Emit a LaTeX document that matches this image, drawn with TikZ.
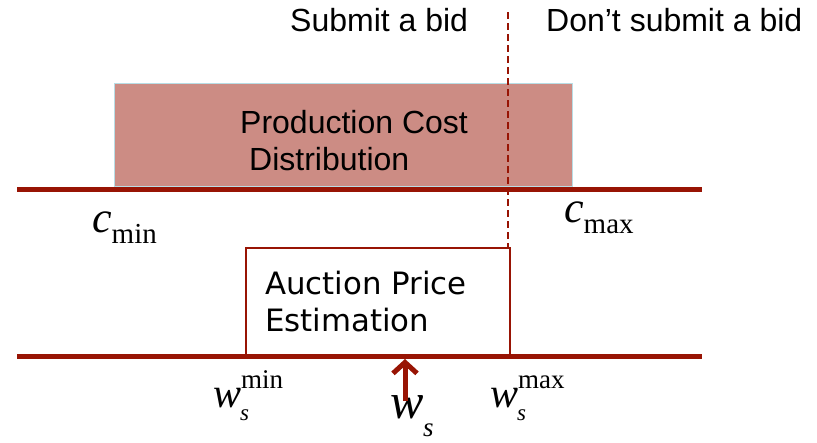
\documentclass[tikz,border=0pt]{standalone}
\usepackage{fontspec}
\setmainfont{Liberation Sans}
\newfontfamily\tms{Liberation Serif}
\newfontfamily\dvs{DejaVu Sans}
\usetikzlibrary{arrows.meta}
\definecolor{axisred}{RGB}{152,20,4}
\definecolor{costfill}{RGB}{204,140,132}
\definecolor{costedge}{RGB}{184,221,229}
\tikzset{
  axisline/.style={draw=axisred, line width=5pt},
  txt/.style={inner sep=0pt, anchor=base west},
  headtxt/.style={txt, font=\fontsize{32}{37}\selectfont},
  boxtxt/.style={txt, font=\dvs\fontsize{30.8}{37}\selectfont},
  mathlbl/.style={inner sep=0pt, anchor=base west, font=\tms},
}
\newcommand{\bigit}[2]{{\fontsize{#1}{#1}\selectfont\itshape #2}}
\newcommand{\rmsz}[2]{{\fontsize{#1}{#1}\selectfont #2}}
\begin{document}
\begin{tikzpicture}[x=1pt, y=-1pt]
  \useasboundingbox (0,0) rectangle (817,442);

  % header labels on either side of the threshold
  \node[headtxt] (submit) at (290,31) {Submit a bid};
  \node[headtxt] (nosubmit) at (546,31) {Don’t submit a bid};

  % production cost distribution box
  \node[draw=costedge, fill=costfill, line width=1.2pt, anchor=north west,
        minimum width=458pt, minimum height=103pt, inner sep=0pt] (prod) at (114,83) {};
  \node[headtxt] (prodA) at (240,133) {Production Cost};
  \node[headtxt] (prodB) at (249,170) {Distribution};

  % axis lines
  \coordinate (topL) at (17,189);
  \coordinate (topR) at (702,189);
  \coordinate (botL) at (17,356);
  \coordinate (botR) at (702,356);

  % auction price estimation box
  \node[draw=axisred, fill=white, line width=1.5pt, anchor=north west,
        minimum width=264pt, minimum height=108pt, inner sep=0pt] (auct) at (245,247) {};
  \node[boxtxt] (auctA) at (265,294) {Auction Price};
  \node[boxtxt] (auctB) at (265,331) {Estimation};

  \draw[axisline] (topL) -- (topR);
  \draw[axisline] (botL) -- (botR);

  % threshold
  \coordinate (thTop) at (508,12);
  \draw[axisred, line width=1.5pt, dash pattern=on 7pt off 4pt] (thTop) -- (thTop |- auct.north);

  % axis end labels
  \node[mathlbl] (cmin) at (92,232) {\bigit{44}{c}\raisebox{-11pt}{\rmsz{29}{min}}};
  \node[mathlbl] (cmax) at (564,222) {\bigit{44}{c}\raisebox{-11pt}{\rmsz{29}{max}}};

  \node[mathlbl] (wmin) at (213,407) {\bigit{42}{w}};
  \node[mathlbl] (wminsup) at (241,388) {\rmsz{27}{min}};
  \node[mathlbl] (wminsub) at (240,420) {\bigit{23}{s}};

  \node[mathlbl] (wmax) at (490,407) {\bigit{42}{w}};
  \node[mathlbl] (wmaxsup) at (518,388) {\rmsz{27}{max}};
  \node[mathlbl] (wmaxsub) at (517,420) {\bigit{23}{s}};

  \node[mathlbl] (ws) at (390,418) {\bigit{50}{w}};
  \node[mathlbl] (wssub) at (423,436) {\bigit{27}{s}};

  % current estimate marker
  \coordinate (arrTail) at (405,401);
  \coordinate (arrTip) at (405,359);
  \draw[axisred, line width=5pt, -{Straight Barb[length=11pt, width=24pt]}] (arrTail) -- (arrTip);
\end{tikzpicture}
\end{document}
